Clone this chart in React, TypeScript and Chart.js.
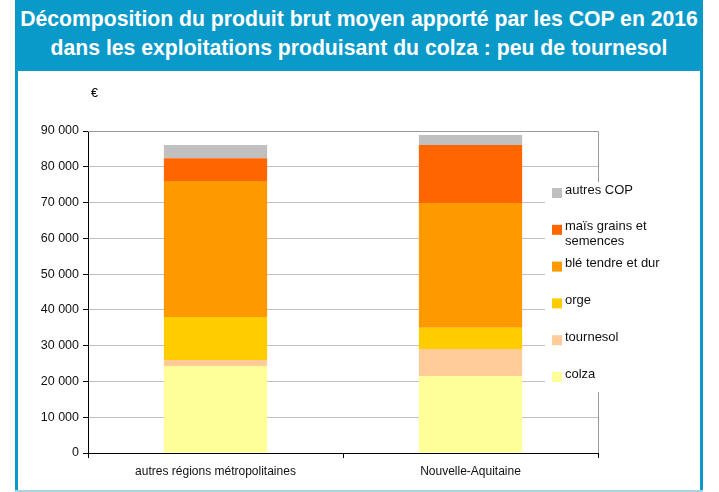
import React, { useEffect, useRef } from "react";
import { Chart, registerables } from "chart.js";

Chart.register(...registerables);

const categories = ["autres régions métropolitaines", "Nouvelle-Aquitaine"];
const colza = [24300, 21500];
const tournesol = [1700, 7600];
const orge = [12000, 5900];
const ble = [38000, 34900];
const mais = [6400, 16200];
const autresCop = [3700, 2800];

const seriesLabels = ["colza", "tournesol", "orge", "blé tendre et dur", "maïs grains et semences", "autres COP"];
const legendLines = [["colza"], ["tournesol"], ["orge"], ["blé tendre et dur"], ["maïs grains et", "semences"], ["autres COP"]];
const seriesColors = ["#FFFF99", "#FFCC99", "#FFCC00", "#FF9900", "#FF6600", "#C0C0C0"];

const yMax = 90000;
const yStep = 10000;

const FONT = "'Liberation Sans', Arial, sans-serif";
const BLUE = "#0A9AC9";

const fmt = (v: number) => String(v).replace(/\B(?=(\d{3})+(?!\d))/g, " ");

const decorPlugin = {
  id: "decor",
  afterDraw(chart: any) {
    const ctx = chart.ctx;
    const a = chart.chartArea;
    ctx.save();
    // plot border (top & right)
    ctx.strokeStyle = "#999999";
    ctx.lineWidth = 1;
    ctx.beginPath();
    ctx.moveTo(a.left, a.top + 0.5);
    ctx.lineTo(a.right + 0.5, a.top + 0.5);
    ctx.lineTo(a.right + 0.5, a.bottom);
    ctx.stroke();
    // euro unit
    ctx.fillStyle = "#000";
    ctx.font = "12.5px " + FONT;
    ctx.textAlign = "left";
    ctx.textBaseline = "middle";
    ctx.fillText("€", a.left + 3, a.top - 37);
    // legend box
    const lx = a.right - 53;
    const top = a.top + 51;
    ctx.fillStyle = "#fff";
    ctx.fillRect(lx, top, 80, 210);
    ctx.font = "13px " + FONT;
    const n = legendLines.length;
    for (let k = 0; k < n; k++) {
      const i = n - 1 - k;
      const cy = top + 11 + k * 36.8;
      ctx.fillStyle = seriesColors[i];
      ctx.fillRect(lx + 7, cy - 5, 10, 10);
      ctx.fillStyle = "#111";
      const lines = legendLines[i];
      lines.forEach((t, j) => {
        ctx.fillText(t, lx + 20, cy - 3 + j * 15);
      });
    }
    ctx.restore();
  },
};

export default function App() {
  const ref = useRef<HTMLCanvasElement>(null);
  useEffect(() => {
    document.body.style.margin = "0";
    if (!ref.current) return;
    const datasets = [colza, tournesol, orge, ble, mais, autresCop].map((d, i) => ({
      label: seriesLabels[i],
      data: d,
      backgroundColor: seriesColors[i],
      borderWidth: 0,
      barPercentage: 0.405,
      categoryPercentage: 1,
    }));
    const chart = new Chart(ref.current, {
      type: "bar",
      data: { labels: categories, datasets },
      plugins: [decorPlugin],
      options: {
        animation: false,
        responsive: false,
        maintainAspectRatio: false,
        layout: { padding: { left: 20, top: 131, right: 121, bottom: 10 } },
        plugins: { legend: { display: false }, tooltip: { enabled: false }, title: { display: false } },
        scales: {
          x: {
            stacked: true,
            offset: true,
            grid: { display: true, drawOnChartArea: false, offset: true, tickLength: 5, tickColor: "#000" },
            border: { color: "#000", width: 1 },
            ticks: { color: "#111", font: { family: FONT, size: 12 }, padding: 6, maxRotation: 0 },
            afterFit: (s: any) => { s.height = 29; },
          },
          y: {
            stacked: true,
            min: 0,
            max: yMax,
            grid: { color: "#C0C0C0", tickColor: "#000", tickLength: 5, lineWidth: 1 },
            border: { color: "#000", width: 1 },
            ticks: {
              stepSize: yStep,
              color: "#111",
              font: { family: FONT, size: 12.5 },
              padding: 4,
              callback: (v: any) => fmt(Number(v)),
            },
            afterFit: (s: any) => { s.width = 68; },
          },
        },
      },
    });
    return () => chart.destroy();
  }, []);

  return (
    <div style={{ position: "fixed", left: 0, top: 0, width: 719, height: 492, background: "#fff", overflow: "hidden" }}>
      <div style={{ position: "absolute", left: 15, top: 0, width: 688, height: 491, background: BLUE }} />
      <div style={{ position: "absolute", left: 18, top: 71, width: 682, height: 420, background: "#fff" }} />
      <div style={{ position: "absolute", left: 15, top: 490, width: 688, height: 2, background: "#A8D4E4" }} />
      <div
        style={{
          position: "absolute",
          left: 15,
          top: 4,
          width: 688,
          textAlign: "center",
          color: "#fff",
          fontFamily: FONT,
          fontWeight: "bold",
          fontSize: 21.2,
          lineHeight: "29px",
          whiteSpace: "nowrap",
        }}
      >
        Décomposition du produit brut moyen apporté par les COP en 2016
        <br />
        dans les exploitations produisant du colza : peu de tournesol
      </div>
      <canvas ref={ref} width={719} height={492} style={{ position: "absolute", left: 0, top: 0 }} />
    </div>
  );
}
